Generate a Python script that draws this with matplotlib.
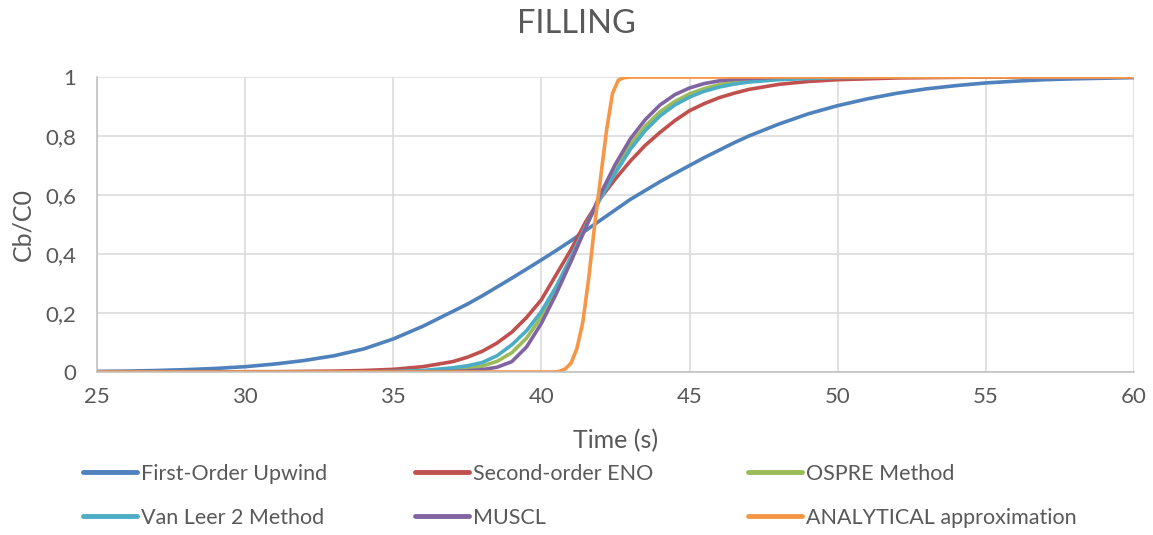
import matplotlib
matplotlib.use('Agg')
import matplotlib.pyplot as plt
from matplotlib.ticker import FuncFormatter, MultipleLocator

# Dane (czas w sekundach, Cb/C0)
time_s = [25, 26, 27, 28, 29, 30, 31, 32, 33, 34, 35, 36,
          37, 37.5, 38, 38.5, 39, 39.5, 40, 40.5, 41, 41.5, 42, 42.5,
          43, 43.5, 44, 44.5, 45, 45.5, 46, 46.5, 47,
          48, 49, 50, 51, 52, 53, 54, 55, 56, 57, 58, 59, 60]

first_order_upwind = [0.002, 0.003, 0.005, 0.008, 0.012, 0.018, 0.027, 0.039, 0.055, 0.078, 0.112, 0.155,
                      0.205, 0.230, 0.258, 0.288, 0.318, 0.349, 0.380, 0.412, 0.445, 0.480, 0.515, 0.550,
                      0.585, 0.615, 0.645, 0.673, 0.700, 0.727, 0.752, 0.777, 0.800,
                      0.840, 0.875, 0.903, 0.926, 0.945, 0.960, 0.971, 0.980, 0.986, 0.991, 0.994, 0.996, 0.998]

second_order_eno = [0, 0, 0, 0, 0, 0.001, 0.001, 0.002, 0.003, 0.005, 0.009, 0.018,
                    0.035, 0.050, 0.070, 0.098, 0.135, 0.185, 0.245, 0.330, 0.415, 0.510, 0.590, 0.655,
                    0.715, 0.768, 0.812, 0.852, 0.886, 0.910, 0.930, 0.945, 0.958,
                    0.975, 0.985, 0.991, 0.994, 0.997, 0.998, 0.999, 1, 1, 1, 1, 1, 1]

ospre = [0, 0, 0, 0, 0, 0, 0, 0, 0, 0, 0, 0.002,
         0.007, 0.012, 0.020, 0.036, 0.065, 0.115, 0.187, 0.280, 0.385, 0.495, 0.600, 0.690,
         0.770, 0.833, 0.882, 0.917, 0.943, 0.961, 0.974, 0.983, 0.989,
         0.995, 0.998, 1, 1, 1, 1, 1, 1, 1, 1, 1, 1, 1]

van_leer_2 = [0, 0, 0, 0, 0, 0, 0, 0, 0, 0, 0.002, 0.005,
              0.014, 0.021, 0.032, 0.055, 0.092, 0.140, 0.205, 0.290, 0.390, 0.495, 0.590, 0.675,
              0.755, 0.818, 0.868, 0.905, 0.932, 0.952, 0.966, 0.976, 0.983,
              0.991, 0.995, 0.998, 0.999, 1, 1, 1, 1, 1, 1, 1, 1, 1]

muscl = [0, 0, 0, 0, 0, 0, 0, 0, 0, 0, 0, 0,
         0.002, 0.004, 0.008, 0.016, 0.035, 0.085, 0.165, 0.265, 0.375, 0.490, 0.605, 0.705,
         0.790, 0.855, 0.905, 0.940, 0.963, 0.978, 0.987, 0.992, 0.995,
         0.999, 1, 1, 1, 1, 1, 1, 1, 1, 1, 1, 1, 1]

analytical_time = [25, 40.4, 40.6, 40.8, 41.0, 41.2, 41.4, 41.6, 41.8, 42.0,
                   42.2, 42.4, 42.6, 42.8, 43.0, 60]
analytical = [0, 0, 0.002, 0.010, 0.030, 0.080, 0.170, 0.320, 0.500, 0.660,
              0.820, 0.945, 0.990, 0.998, 1, 1]

labels = ["First-Order Upwind", "Second-order ENO", "OSPRE Method",
          "Van Leer 2 Method", "MUSCL", "ANALYTICAL approximation"]
colors = ["#4F81BD", "#C0504D", "#9BBB59", "#4BACC6", "#8064A2", "#F79646"]

TEXT_COLOR = "#595959"


def comma_format(value, _pos):
    # Excel w wersji z przecinkiem dziesietnym
    return f"{value:g}".replace('.', ',')


def main():
    plt.rcParams['font.family'] = ['Lato', 'DejaVu Sans']

    fig = plt.figure(figsize=(11.53, 5.35), dpi=100)
    ax = fig.add_axes([0.0841, 0.3047, 0.8994, 0.5513])

    series = [first_order_upwind, second_order_eno, ospre, van_leer_2, muscl]
    lines = []
    for values, label, color in zip(series, labels[:5], colors[:5]):
        line, = ax.plot(time_s, values, color=color, linewidth=2.6, label=label,
                        solid_capstyle='round', solid_joinstyle='round')
        lines.append(line)
    line, = ax.plot(analytical_time, analytical, color=colors[5], linewidth=2.6,
                    label=labels[5], solid_capstyle='round', solid_joinstyle='round')
    lines.append(line)

    # Osie i siatka
    ax.set_xlim(25, 60)
    ax.set_ylim(0, 1)
    ax.xaxis.set_major_locator(MultipleLocator(5))
    ax.yaxis.set_major_locator(MultipleLocator(0.2))
    ax.yaxis.set_major_formatter(FuncFormatter(comma_format))
    ax.grid(True, color="#D9D9D9", linewidth=1.1)
    ax.set_axisbelow(True)
    for side in ['top', 'right']:
        ax.spines[side].set_visible(False)
    for side in ['left', 'bottom']:
        ax.spines[side].set_color("#BFBFBF")
        ax.spines[side].set_linewidth(1.1)
    ax.tick_params(axis='both', length=0, labelsize=16, labelcolor=TEXT_COLOR)
    ax.tick_params(axis='y', pad=15)
    ax.tick_params(axis='x', pad=11)

    ax.set_xlabel("Time (s)", fontsize=18, color=TEXT_COLOR, labelpad=16)
    ax.set_ylabel("Cb/C0", fontsize=18, color=TEXT_COLOR, labelpad=8)
    fig.text(0.5, 0.955, "FILLING", fontsize=23.5, color=TEXT_COLOR,
             ha='center', va='center')

    # Legenda: trzy kolumny rysowane osobno
    column_x = [83 / 1153, 415 / 1153, 748 / 1153]
    for col, x0 in enumerate(column_x):
        handles = [lines[col], lines[col + 3]]
        leg = fig.legend(handles=handles, labels=[labels[col], labels[col + 3]],
                         loc='upper left', bbox_to_anchor=(x0, 1 - 464 / 535),
                         frameon=False, fontsize=15.5, handlelength=2.5,
                         handletextpad=0.2, labelspacing=1.1,
                         borderpad=0, borderaxespad=0)
        for text in leg.get_texts():
            text.set_color(TEXT_COLOR)
        for handle in leg.legend_handles:
            handle.set_linewidth(3.5)

    fig.savefig("out.png", dpi=100)


if __name__ == "__main__":
    main()
